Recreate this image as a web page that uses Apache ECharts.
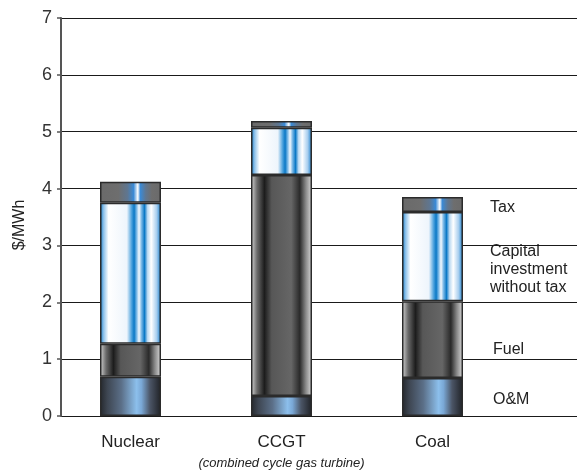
<!DOCTYPE html>
<html>
<head>
<meta charset="utf-8">
<script src="https://cdn.jsdelivr.net/npm/echarts@6/dist/echarts.min.js"></script>
<style>
  html, body { margin: 0; padding: 0; background: #fff; }
  #chart { width: 577px; height: 472px; }
</style>
</head>
<body>
<div id="chart"></div>
<script>
// Cost breakdown per generating technology, $/MWh
const categories = ['Nuclear', 'CCGT', 'Coal'];
const categorySubtitle = { CCGT: '(combined cycle gas turbine)' };
const omCost = [0.69, 0.35, 0.67];
const fuelCost = [0.58, 3.89, 1.35];
const capitalCost = [2.48, 0.83, 1.57];
const taxCost = [0.37, 0.12, 0.26];
const yTicks = [0, 1, 2, 3, 4, 5, 6, 7];
const yTitle = '$/MWh';
const sideLabels = ['Tax', 'Capital\ninvestment\nwithout tax', 'Fuel', 'O&M'];

const FONT = '"Liberation Sans", Arial, sans-serif';

function grad(stops) {
  return new echarts.graphic.LinearGradient(0, 0, 1, 0,
    stops.map(s => ({ offset: s[0], color: s[1] })));
}

// cylinder-like shading for each cost component
const omFill = grad([
  [0, '#24272c'], [0.12, '#3e4652'], [0.35, '#5b6f88'],
  [0.6, '#8cbfec'], [0.68, '#7aa8d6'], [0.82, '#4b5566'], [1, '#1f2125']
]);
const fuelFill = grad([
  [0, '#d6d6d6'], [0.1, '#6a6a6a'], [0.22, '#1c1c1c'], [0.34, '#575757'],
  [0.66, '#666666'], [0.8, '#2a2a2a'], [0.9, '#8a8a8a'], [1, '#dcdcdc']
]);
const capitalFill = grad([
  [0, '#0f78c8'], [0.06, '#8fc2ea'], [0.14, '#ffffff'], [0.44, '#eef5fc'],
  [0.52, '#4aa0dc'], [0.56, '#0a78c6'], [0.6, '#7ab8e6'], [0.64, '#f4f9fe'],
  [0.68, '#7ab8e6'], [0.73, '#0a78c6'], [0.78, '#bcdaf2'], [0.84, '#ffffff'],
  [0.93, '#a6cdee'], [1, '#0f78c8']
]);
const taxFill = grad([
  [0, '#6a6a6a'], [0.3, '#6e6e6e'], [0.45, '#5f7690'], [0.55, '#3a8ad6'],
  [0.62, '#ffffff'], [0.66, '#3a8ad6'], [0.75, '#5f7690'], [0.85, '#6e6e6e'], [1, '#6a6a6a']
]);

const border = { borderColor: '#2b2b2b', borderWidth: 1.5 };

function segment(name, data, fill) {
  return {
    name: name,
    type: 'bar',
    stack: 'total',
    xAxisIndex: 1,
    yAxisIndex: 1,
    barWidth: 61,
    data: data,
    itemStyle: Object.assign({ color: fill }, border),
    emphasis: { disabled: true }
  };
}

const chart = echarts.init(document.getElementById('chart'), null, { renderer: 'canvas' });

const sideText = (x, y, text) => ({
  type: 'text', left: x, top: y,
  style: { text: text, font: '16px ' + FONT, fill: '#222', lineHeight: 18 }
});

chart.setOption({
  animation: false,
  backgroundColor: '#ffffff',
  grid: [
    { left: 61, right: 0, top: 18, bottom: 56 },
    { left: 55, right: 69, top: 18, bottom: 56 }
  ],
  xAxis: [
    { gridIndex: 0, type: 'value', min: 0, max: 1, show: false },
    {
      gridIndex: 1,
      type: 'category',
      data: categories,
      axisLine: { show: false },
      axisTick: { show: false },
      axisLabel: {
        interval: 0,
        margin: 16,
        formatter: v => categorySubtitle[v]
          ? '{main|' + v + '}\n{sub|' + categorySubtitle[v] + '}'
          : '{main|' + v + '}',
        rich: {
          main: { fontFamily: FONT, fontSize: 17, color: '#222', lineHeight: 20 },
          sub: { fontFamily: FONT, fontSize: 13, fontStyle: 'italic', color: '#222', lineHeight: 22 }
        }
      }
    }
  ],
  yAxis: [
    {
      gridIndex: 0,
      type: 'value',
      min: yTicks[0],
      max: yTicks[yTicks.length - 1],
      interval: 1,
      axisLine: { show: true, lineStyle: { color: '#555', width: 2 } },
      axisTick: { show: true, length: 4, lineStyle: { color: '#555', width: 1.5 } },
      axisLabel: { fontFamily: FONT, fontSize: 18, color: '#333', margin: 9 },
      splitLine: { show: true, lineStyle: { color: '#1a1a1a', width: 1 } }
    },
    { gridIndex: 1, type: 'value', min: 0, max: 7, show: false, splitLine: { show: false } }
  ],
  series: [
    segment('O&M', omCost, omFill),
    segment('Fuel', fuelCost, fuelFill),
    segment('Capital investment without tax', capitalCost, capitalFill),
    segment('Tax', taxCost, taxFill)
  ],
  graphic: [
    {
      type: 'text', x: 20, y: 225, rotation: Math.PI / 2,
      style: { text: yTitle, font: '16px ' + FONT, fill: '#222', align: 'center', verticalAlign: 'middle' }
    },
    sideText(490, 199, sideLabels[0]),
    sideText(490, 243, sideLabels[1]),
    sideText(493, 341, sideLabels[2]),
    sideText(493, 391, sideLabels[3])
  ]
});
</script>
</body>
</html>
